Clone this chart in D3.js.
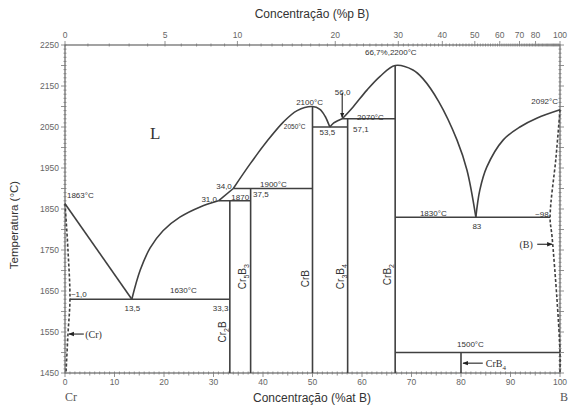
<!DOCTYPE html>
<html>
<head>
<meta charset="utf-8">
<script src="https://cdn.jsdelivr.net/npm/d3@7"></script>
<style>
  body { margin: 0; background: #fff; }
  svg { display: block; }
  text { fill: #333; }
</style>
</head>
<body>
<svg width="569" height="408"></svg>
<script>
// ---- data (at% B, temperature in °C) ----
var tempTicks = [1450, 1550, 1650, 1750, 1850, 1950, 2050, 2150, 2250];
var atTicks = [0, 10, 20, 30, 40, 50, 60, 70, 80, 90, 100];
var wtTicks = [0, 5, 10, 20, 30, 40, 50, 60, 70, 80, 100];

var liqCr = [[0, 1863], [13.5, 1630]];
var liqCr2B = [[13.5, 1630], [15.2, 1701], [17.2, 1755], [19.8, 1797], [23.2, 1830], [27.3, 1855], [31.0, 1870]];
var liqCr5B3 = [[31.0, 1870], [34.0, 1900]];
var liqCrB = [[34.0, 1900], [37.4, 1960], [40.8, 2015], [44.1, 2062], [46.9, 2090], [50, 2100], [51.5, 2093], [52.6, 2075], [53.5, 2050]];
var liqCr3B4 = [[53.5, 2050], [54.3, 2060], [55.2, 2066], [56.0, 2070]];
var liqCrB2 = [[56.0, 2070], [58.2, 2099], [61, 2140], [63.6, 2173], [66.7, 2200], [70.3, 2189], [72.3, 2168], [75.5, 2112], [79.2, 2018], [81.2, 1945], [83, 1830]];
var liqB = [[83, 1830], [83.8, 1896], [85.2, 1952], [88.5, 2018], [91.9, 2050], [95.4, 2072], [100, 2092]];

var solCr = [[0, 1863], [0.6, 1750], [1.0, 1630], [0.6, 1545], [0.2, 1450]];
var solB = [[100, 2092], [99.2, 1977], [98, 1830], [98.4, 1782], [99.4, 1628], [100, 1500], [100, 1450]];

// [from at%, to at%, T]
var isotherms = [[1.0, 33.3, 1630], [31.0, 37.5, 1870], [34.0, 50, 1900], [50, 57.1, 2050], [56.0, 66.7, 2070], [66.7, 98, 1830], [66.7, 100, 1500]];
// [at%, top T, bottom T]
var compounds = [[33.3, 1870, 1450], [37.5, 1900, 1450], [50, 2100, 1450], [57.1, 2070, 1450], [66.7, 2200, 1450], [80, 1500, 1450]];

var svg = d3.select('svg');
var x = d3.scaleLinear().domain([0, 100]).range([65, 560]);
var y = d3.scaleLinear().domain([1450, 2250]).range([373, 45]);

// weight % B -> atomic % B  (Cr 52.00, B 10.81)
function wtToAt(w) {
    if (w >= 100) return 100;
    var r = (w / (100 - w)) * 52.0 / 10.81;
    return 100 * r / (1 + r);
}

var ink = '#404040';
var tickInk = '#777';

// ---- frame ----
svg.append('rect')
    .attr('x', x(0)).attr('y', y(2250))
    .attr('width', x(100) - x(0)).attr('height', y(1450) - y(2250))
    .style('fill', 'none').style('stroke', '#666').style('stroke-width', 1.2);

// ---- axes ticks ----
var g = svg.append('g').style('stroke', tickInk).style('stroke-width', 0.8);
d3.range(1450, 2251, 10).forEach(function(t) {
    var big = (t - 1450) % 50 === 0;
    [x(0), x(100)].forEach(function(px, k) {
        var out = k === 0 ? -1 : 1;
        g.append('line')
            .attr('x1', px - out * 1.5).attr('x2', px + out * (big ? 4 : 1.5))
            .attr('y1', y(t)).attr('y2', y(t));
    });
});
d3.range(0, 101, 1).forEach(function(a) {
    var big = a % 10 === 0, mid = a % 5 === 0;
    g.append('line')
        .attr('x1', x(a)).attr('x2', x(a))
        .attr('y1', y(1450) - 1.5).attr('y2', y(1450) + (big ? 4 : mid ? 2.5 : 1.5));
});
d3.range(0, 100, 1).forEach(function(w) {
    var big = wtTicks.indexOf(w) >= 0;
    g.append('line')
        .attr('x1', x(wtToAt(w))).attr('x2', x(wtToAt(w)))
        .attr('y1', y(2250) + 1.5).attr('y2', y(2250) - (big ? 4 : 1.5));
});
g.append('line').attr('x1', x(100)).attr('x2', x(100)).attr('y1', y(2250)).attr('y2', y(2250) - 4);

// tick labels
svg.append('g').selectAll('text').data(tempTicks).enter().append('text')
    .attr('x', x(0) - 6).attr('y', function(d) { return y(d); }).attr('dy', '0.35em')
    .attr('text-anchor', 'end')
    .style('font', '8.5px "Liberation Sans", Arial, sans-serif').style('fill', '#666')
    .text(function(d) { return d; });
svg.append('g').selectAll('text').data(atTicks).enter().append('text')
    .attr('x', function(d) { return x(d); }).attr('y', y(1450) + 12)
    .attr('text-anchor', 'middle')
    .style('font', '8.5px "Liberation Sans", Arial, sans-serif').style('fill', '#666')
    .text(function(d) { return d; });
svg.append('g').selectAll('text').data(wtTicks).enter().append('text')
    .attr('x', function(d) { return x(wtToAt(d)); }).attr('y', y(2250) - 7)
    .attr('text-anchor', 'middle')
    .style('font', '8.5px "Liberation Sans", Arial, sans-serif').style('fill', '#666')
    .text(function(d) { return d; });

// axis titles
svg.append('text').attr('x', 312).attr('y', 18).attr('text-anchor', 'middle')
    .style('font', '12px "Liberation Sans", Arial, sans-serif').text('Concentração (%p B)');
svg.append('text').attr('x', 312).attr('y', 402).attr('text-anchor', 'middle')
    .style('font', '12px "Liberation Sans", Arial, sans-serif').text('Concentração (%at B)');
svg.append('text').attr('transform', 'translate(18,225) rotate(-90)').attr('text-anchor', 'middle')
    .style('font', '11.5px "Liberation Sans", Arial, sans-serif').text('Temperatura (°C)');

// ---- phase boundaries ----
var line = d3.line().x(function(d) { return x(d[0]); }).y(function(d) { return y(d[1]); });
var smooth = d3.line().curve(d3.curveCatmullRom.alpha(0.5)).x(function(d) { return x(d[0]); }).y(function(d) { return y(d[1]); });

var curves = svg.append('g').style('fill', 'none').style('stroke', ink).style('stroke-width', 1.6);
curves.append('path').attr('d', line(liqCr));
[liqCr2B, liqCr5B3, liqCrB, liqCr3B4, liqCrB2, liqB].forEach(function(c) {
    curves.append('path').attr('d', smooth(c));
});
[solCr, solB].forEach(function(c) {
    curves.append('path').attr('d', smooth(c)).style('stroke-dasharray', '3,2');
});
isotherms.forEach(function(h) {
    curves.append('line').attr('x1', x(h[0])).attr('x2', x(h[1])).attr('y1', y(h[2])).attr('y2', y(h[2]));
});
compounds.forEach(function(v) {
    curves.append('line').attr('x1', x(v[0])).attr('x2', x(v[0])).attr('y1', y(v[1])).attr('y2', y(v[2]));
});

// ---- annotations ----
var small = '8px "Liberation Sans", Arial, sans-serif';
var serif = '"Liberation Serif", "Times New Roman", serif';
var notes = [
    ['1863°C', 0.4, 1884, 'start'],
    ['~1,0', 1.2, 1643, 'start'],
    ['13,5', 13.6, 1608, 'middle'],
    ['1630°C', 21.2, 1653, 'start'],
    ['33,3', 33.0, 1608, 'end'],
    ['31,0', 30.7, 1874, 'end'],
    ['34,0', 33.7, 1905, 'end'],
    ['1870', 33.6, 1880, 'start'],
    ['37,5', 38.0, 1887, 'start'],
    ['1900°C', 39.4, 1911, 'start'],
    ['2100°C', 46.7, 2111, 'start'],
    ['53,5', 53.0, 2038, 'middle'],
    ['56,0', 54.5, 2135, 'start'],
    ['57,1', 58.2, 2045, 'start'],
    ['2070°C', 59.0, 2075, 'start'],
    ['66,7%,2200°C', 60.6, 2232, 'start'],
    ['2092°C', 99.6, 2112, 'end'],
    ['1830°C', 71.7, 1840, 'start'],
    ['83', 83.2, 1808, 'middle'],
    ['~98', 97.7, 1838, 'end'],
    ['1500°C', 79.2, 1520, 'start']
];
svg.append('g').selectAll('text').data(notes).enter().append('text')
    .attr('x', function(d) { return x(d[1]); }).attr('y', function(d) { return y(d[2]); })
    .attr('dy', '0.35em').attr('text-anchor', function(d) { return d[3]; })
    .style('font', small)
    .text(function(d) { return d[0]; });
svg.append('text').attr('x', x(44.2)).attr('y', y(2051)).attr('dy', '0.35em').attr('text-anchor', 'start')
    .style('font', '6.5px "Liberation Sans", Arial, sans-serif').text('2050°C');

svg.append('text').attr('x', x(18.2)).attr('y', y(2035)).attr('dy', '0.35em').attr('text-anchor', 'middle')
    .style('font', '17px ' + serif).text('L');
svg.append('text').attr('x', x(0)).attr('y', y(1450) + 28).attr('text-anchor', 'start')
    .style('font', '12px ' + serif).style('fill', '#555').text('Cr');
svg.append('text').attr('x', x(100)).attr('y', y(1450) + 28).attr('text-anchor', 'start')
    .style('font', '12px ' + serif).style('fill', '#555').text('B');
svg.append('text').attr('x', x(4.1)).attr('y', y(1545)).attr('dy', '0.35em')
    .style('font', '10px ' + serif).text('(Cr)');
svg.append('text').attr('x', x(91.8)).attr('y', y(1764)).attr('dy', '0.35em')
    .style('font', '10px ' + serif).text('(B)');
var crb4 = svg.append('text').attr('x', x(85)).attr('y', y(1474)).attr('dy', '0.35em')
    .style('font', '10px ' + serif);
crb4.append('tspan').text('CrB');
crb4.append('tspan').attr('dy', 3).style('font-size', '7px').text('4');

// arrows
svg.append('defs').append('marker').attr('id', 'arr')
    .attr('viewBox', '0 0 10 10').attr('refX', 9).attr('refY', 5)
    .attr('markerWidth', 5).attr('markerHeight', 5).attr('orient', 'auto')
    .append('path').attr('d', 'M0,1L10,5L0,9Z').style('fill', '#222');
var arrows = [[[3.8, 1545], [0.8, 1545]], [[95.4, 1764], [98.4, 1764]], [[84.4, 1474], [80.4, 1474]], [[56.0, 2133], [56.0, 2073]]];
arrows.forEach(function(a) {
    svg.append('line').attr('x1', x(a[0][0])).attr('y1', y(a[0][1]))
        .attr('x2', x(a[1][0])).attr('y2', y(a[1][1]))
        .style('stroke', '#222').style('stroke-width', 1.1).attr('marker-end', 'url(#arr)');
});

// compound names (rotated)
var phases = [
    [['Cr', '2', 'B', ''], 31.8, 1550],
    [['Cr', '5', 'B', '3'], 35.8, 1685],
    [['Cr', '', 'B', ''], 48.6, 1680],
    [['Cr', '3', 'B', '4'], 55.7, 1685],
    [['Cr', '', 'B', '2'], 65.2, 1690]
];
phases.forEach(function(p) {
    var t = svg.append('text')
        .attr('transform', 'translate(' + x(p[1]) + ',' + y(p[2]) + ') rotate(-90)')
        .attr('text-anchor', 'middle').attr('dy', '0.35em')
        .style('font', '10px "Liberation Sans", Arial, sans-serif');
    var parts = p[0];
    t.append('tspan').text(parts[0]);
    if (parts[1]) t.append('tspan').attr('dy', 3).style('font-size', '7px').text(parts[1]);
    t.append('tspan').attr('dy', parts[1] ? -3 : 0).text(parts[2]);
    if (parts[3]) t.append('tspan').attr('dy', 3).style('font-size', '7px').text(parts[3]);
});
</script>
</body>
</html>
